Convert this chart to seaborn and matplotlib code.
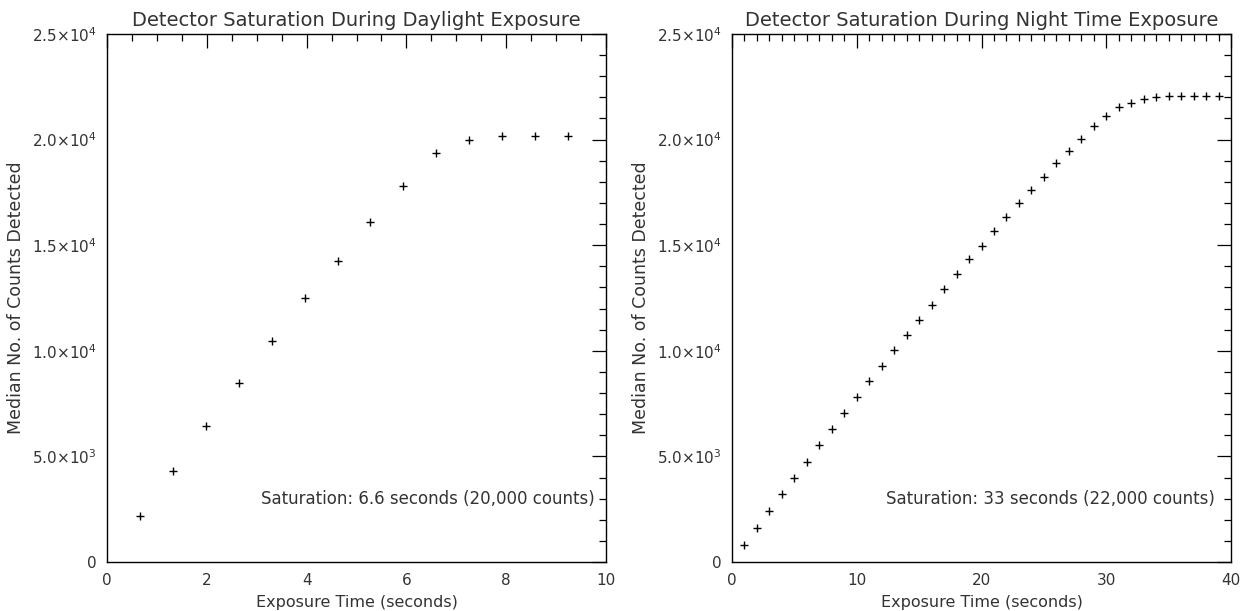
import matplotlib
matplotlib.use("Agg")
import matplotlib.pyplot as plt
import seaborn as sns
import numpy as np
import pandas as pd
from matplotlib.ticker import MultipleLocator, FixedLocator, FixedFormatter

# ---- data ----
day_time = [0.66, 1.32, 1.98, 2.64, 3.30, 3.96, 4.62, 5.28, 5.94, 6.60, 7.26, 7.92, 8.58, 9.24]
day_counts = [2195, 4325, 6440, 8460, 10480, 12480, 14270, 16095, 17808, 19350, 19990, 20180, 20180, 20180]

night_time = list(range(1, 40))
night_counts = [820, 1600, 2420, 3200, 3970, 4750, 5520, 6290, 7040, 7810,
                8590, 9290, 10020, 10760, 11480, 12190, 12930, 13640, 14330, 14980,
                15690, 16330, 16980, 17630, 18230, 18870, 19470, 20040, 20640, 21120,
                21520, 21740, 21900, 22030, 22080, 22080, 22080, 22080, 22080]

titles = ["Detector Saturation During Daylight Exposure",
          "Detector Saturation During Night Time Exposure"]
xlabel = "Exposure Time (seconds)"
ylabel = "Median No. of Counts Detected"
notes = ["Saturation: 6.6 seconds (20,000 counts)",
         "Saturation: 33 seconds (22,000 counts)"]
ytick_vals = [0, 5000, 10000, 15000, 20000, 25000]
ytick_labels = ["0", r"5.0$\times$10$^{3}$", r"1.0$\times$10$^{4}$",
                r"1.5$\times$10$^{4}$", r"2.0$\times$10$^{4}$", r"2.5$\times$10$^{4}$"]
xlims = [10, 40]
xmajor = [2, 10]
xminor = [0.5, 1]

sns.set_style("white")
plt.rcParams['font.family'] = ['DejaVu Sans']
plt.rcParams['mathtext.default'] = 'regular'

fig = plt.figure(figsize=(12.41, 6.11), dpi=100)
W, H = 1241, 611
ax_l = fig.add_axes([107 / W, (H - 562) / H, 499 / W, 528 / H])
ax_r = fig.add_axes([732 / W, (H - 562) / H, 499 / W, 528 / H])

txtc = "#333333"
datasets = [(day_time, day_counts), (night_time, night_counts)]
for i, ax in enumerate([ax_l, ax_r]):
    x, y = datasets[i]
    df = pd.DataFrame({"t": x, "c": y})
    sns.scatterplot(data=df, x="t", y="c", marker="+", color="black",
                    s=40, linewidth=1.0, ax=ax, zorder=3)
    ax.set_xlim(0, xlims[i])
    ax.set_ylim(0, 25000)
    ax.xaxis.set_major_locator(MultipleLocator(xmajor[i]))
    ax.xaxis.set_minor_locator(MultipleLocator(xminor[i]))
    ax.yaxis.set_major_locator(FixedLocator(ytick_vals))
    ax.yaxis.set_major_formatter(FixedFormatter(ytick_labels))
    ax.yaxis.set_minor_locator(MultipleLocator(1000))
    ax.tick_params(which="both", direction="in", top=True, right=True,
                   color="black", width=0.9)
    ax.tick_params(which="major", length=10, labelsize=11, labelcolor=txtc)
    ax.tick_params(axis="x", which="major", pad=8)
    ax.tick_params(axis="y", which="major", pad=7.5)
    ax.tick_params(which="minor", length=5)
    for sp in ax.spines.values():
        sp.set_visible(True)
        sp.set_color("black")
        sp.set_linewidth(1.0)
    ax.set_title(titles[i], fontsize=14, pad=6, color=txtc)
    ax.set_xlabel(xlabel, fontsize=11.5, labelpad=5, color=txtc)
    ax.set_ylabel(ylabel, fontsize=12.5, labelpad=5, color=txtc)
    ax.text(0.978 if i == 0 else 0.968, 3000, notes[i], transform=ax.get_yaxis_transform(),
            ha="right", va="center", fontsize=12, color=txtc)

fig.savefig("out.png", dpi=100, facecolor="white")
